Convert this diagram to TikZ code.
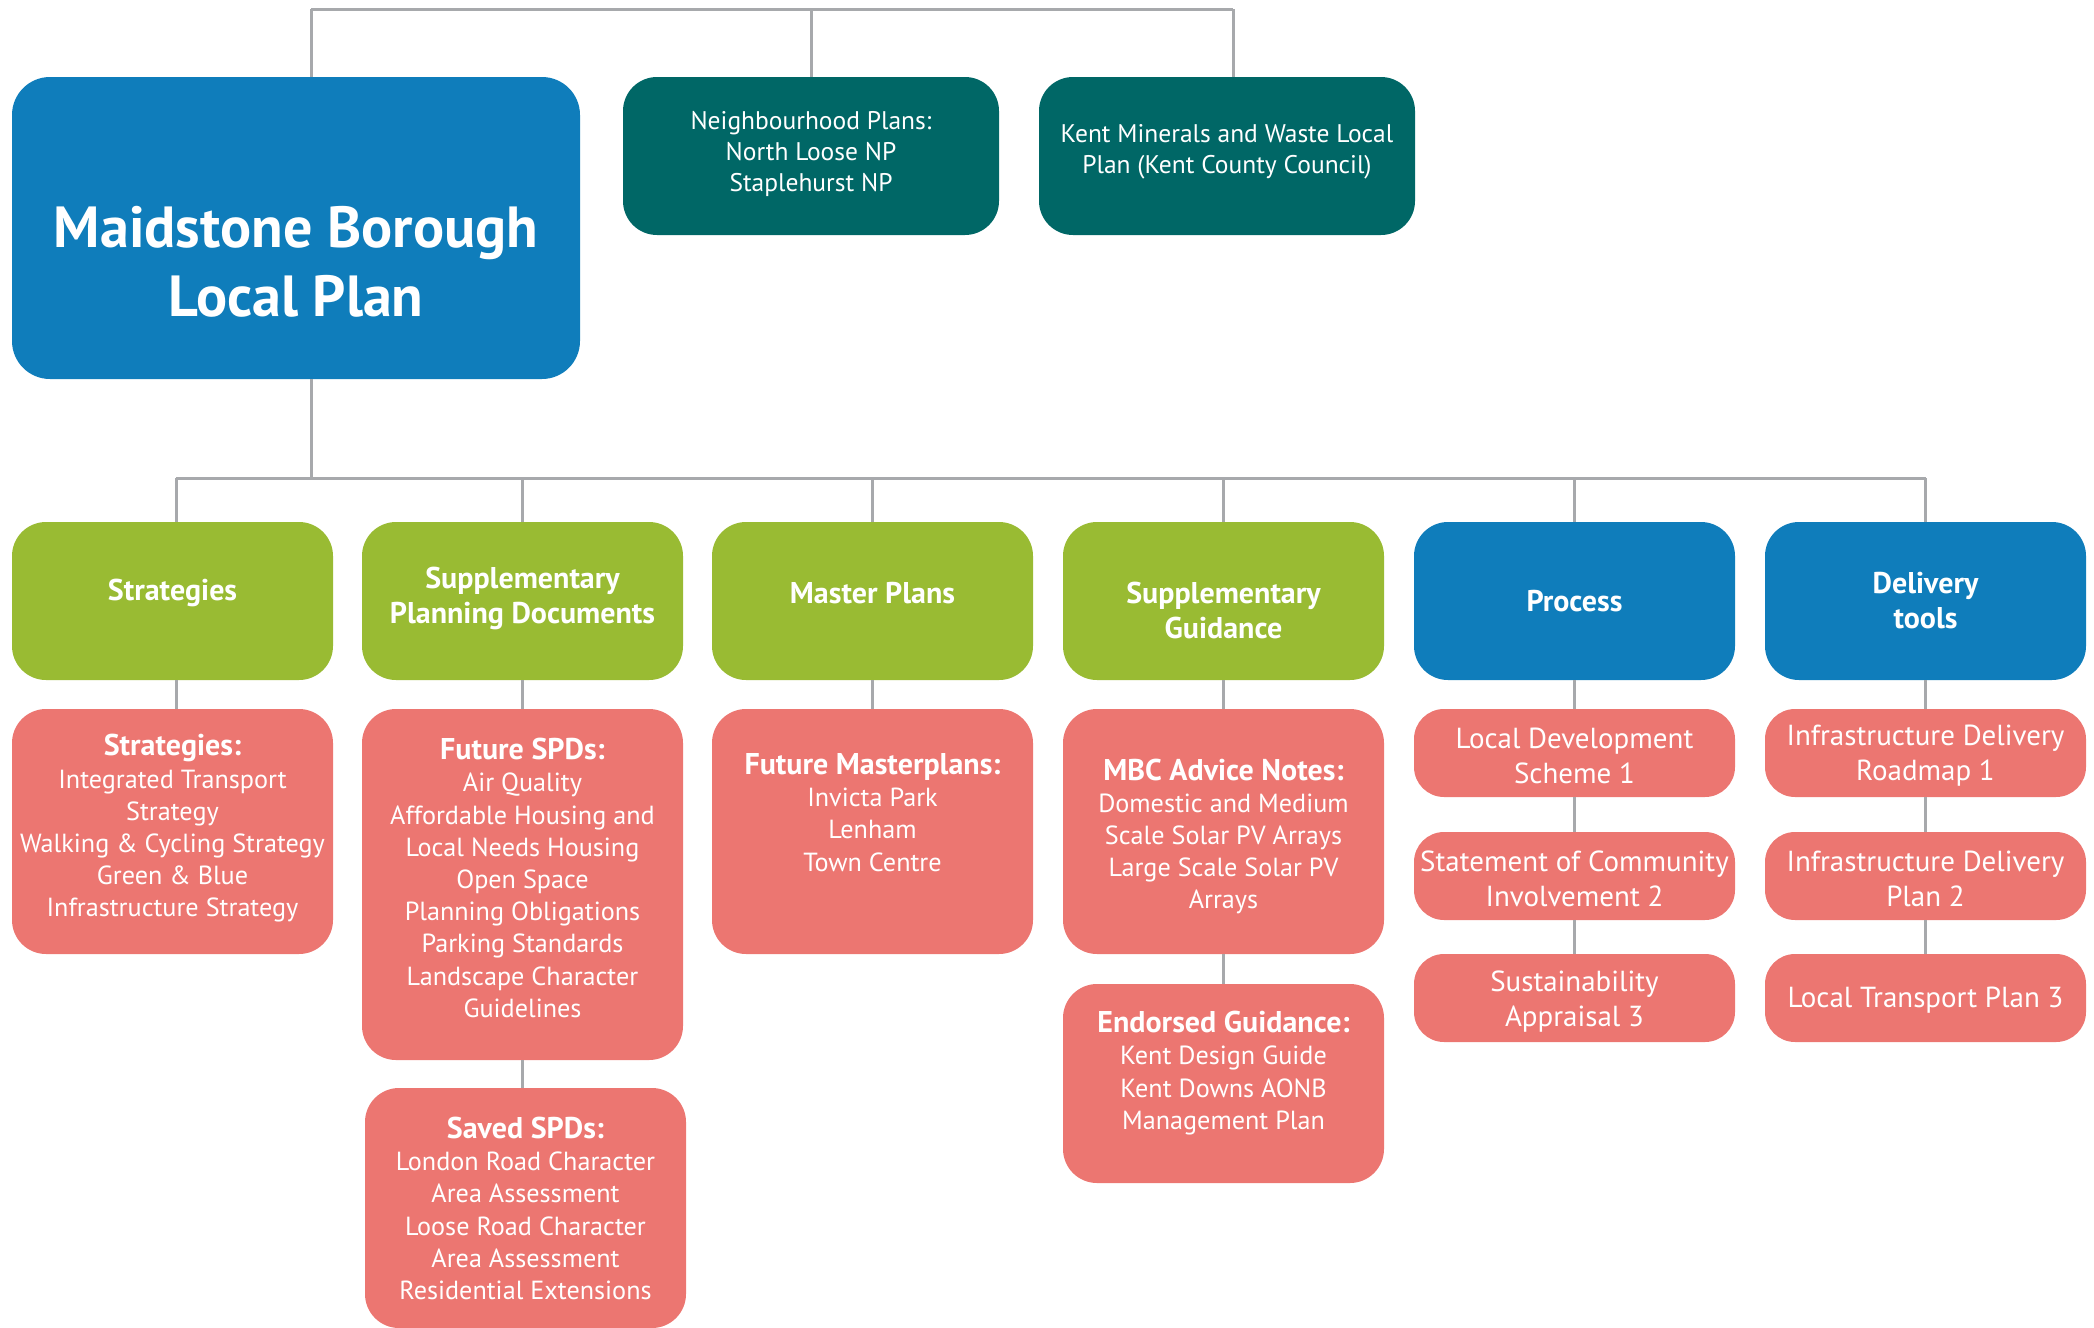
\documentclass[tikz,border=0pt]{standalone}
\usepackage{fontspec}
\setmainfont{PT Sans}
\definecolor{mbblue}{RGB}{15,125,187}
\definecolor{mbteal}{RGB}{0,103,102}
\definecolor{mbgreen}{RGB}{153,187,51}
\definecolor{mbred}{RGB}{236,118,113}
\definecolor{mbgray}{RGB}{167,169,172}
\tikzset{
  box/.style={rectangle, rounded corners=34pt, inner sep=0pt, minimum width=321pt, draw=none},
  greenbox/.style={box, fill=mbgreen, minimum height=158pt},
  bluebox/.style={box, fill=mbblue, minimum height=158pt},
  tealbox/.style={box, fill=mbteal, minimum width=376pt, minimum height=158pt},
  redbox/.style={box, fill=mbred},
  smallbox/.style={box, fill=mbred, rounded corners=30pt, minimum height=88pt},
  txt/.style={text=white, align=center, inner sep=0pt},
  head/.style={txt, font=\bfseries\fontsize{30}{35}\selectfont},
  body/.style={txt, font=\fontsize{26.2}{32.2}\selectfont},
  small/.style={txt, font=\fontsize{29}{35}\selectfont},
  link/.style={draw=mbgray, line width=3pt},
}
\newcommand{\rhead}[1]{{\bfseries\fontsize{30}{32}\selectfont #1}}
\begin{document}
\begin{tikzpicture}[x=1pt,y=-1pt]
\useasboundingbox (0,0) rectangle (2094,1328);
% top row
\node[box, fill=mbblue, minimum width=568pt, minimum height=302pt, rounded corners=38pt] (main) at (296,228) {};
\node[txt, font=\bfseries\fontsize{58}{69}\selectfont] (tmain) at (296,262) {Maidstone Borough\\Local Plan};
\node[tealbox] (np) at (811,156) {};
\node[txt, font=\fontsize{25.5}{31}\selectfont] (tnp) at (811,154) {Neighbourhood Plans:\\North Loose NP\\Staplehurst NP};
\node[tealbox] (kent) at (1227,156) {};
\node[txt, font=\fontsize{25.5}{31}\selectfont] (tkent) at (1227,152) {Kent Minerals and Waste Local\\Plan (Kent County Council)};
% second row
\node[greenbox] (g1) at (172.5,601) {};
\node[head] (tg1) at (172.5,593) {Strategies};
\node[greenbox] (g2) at (522.5,601) {};
\node[head] (tg2) at (522.5,598) {Supplementary\\Planning Documents};
\node[greenbox] (g3) at (872.5,601) {};
\node[head] (tg3) at (872.5,593) {Master Plans};
\node[greenbox] (g4) at (1223.5,601) {};
\node[head] (tg4) at (1223.5,610) {Supplementary\\Guidance};
\node[bluebox] (g5) at (1574.5,601) {};
\node[head] (tg5) at (1574.5,601) {Process};
\node[bluebox] (g6) at (1925.5,601) {};
\node[head] (tg6) at (1925.5,601) {Delivery\\tools};
% third row
\node[redbox, minimum height=245pt] (r1) at (172.5,831.5) {};
\node[body] (tr1) at (172.5,828.5) {\rhead{Strategies:}\\Integrated Transport\\Strategy\\Walking \& Cycling Strategy\\Green \& Blue\\Infrastructure Strategy};
\node[redbox, minimum height=351pt] (r2) at (522.5,884.5) {};
\node[body] (tr2) at (522.5,878) {\rhead{Future SPDs:}\\Air Quality\\Affordable Housing and\\Local Needs Housing\\Open Space\\Planning Obligations\\Parking Standards\\Landscape Character\\Guidelines};
\node[redbox, minimum height=240pt] (r2b) at (525.5,1208) {};
\node[body] (tr2b) at (525.5,1208.5) {\rhead{Saved SPDs:}\\London Road Character\\Area Assessment\\Loose Road Character\\Area Assessment\\Residential Extensions};
\node[redbox, minimum height=245pt] (r3) at (872.5,831.5) {};
\node[body] (tr3) at (872.5,812.5) {\rhead{Future Masterplans:}\\Invicta Park\\Lenham\\Town Centre};
\node[redbox, minimum height=245pt] (r4) at (1223.5,831.5) {};
\node[body] (tr4) at (1223.5,836.5) {\rhead{MBC Advice Notes:}\\Domestic and Medium\\Scale Solar PV Arrays\\Large Scale Solar PV\\Arrays};
\node[redbox, minimum height=199pt] (r4b) at (1223.5,1083.5) {};
\node[body] (tr4b) at (1223.5,1073) {\rhead{Endorsed Guidance:}\\Kent Design Guide\\Kent Downs AONB\\Management Plan};
\node[smallbox] (p1) at (1574.5,753) {};
\node[small] (tp1) at (1574.5,756) {Local Development\\Scheme 1};
\node[smallbox] (p2) at (1574.5,876) {};
\node[small] (tp2) at (1574.5,878.5) {Statement of Community\\Involvement 2};
\node[smallbox] (p3) at (1574.5,998) {};
\node[small] (tp3) at (1574.5,1001.5) {Sustainability\\Appraisal 3};
\node[smallbox] (d1) at (1925.5,753) {};
\node[small] (td1) at (1925.5,756) {Infrastructure Delivery\\Roadmap 1};
\node[smallbox] (d2) at (1925.5,876) {};
\node[small] (td2) at (1925.5,878.5) {Infrastructure Delivery\\Plan 2};
\node[smallbox] (d3) at (1925.5,998) {};
\node[small] (td3) at (1925.5,1000) {Local Transport Plan 3};
% connectors
\coordinate (tbL) at (311,9);
\coordinate (tbR) at (1233,9);
\coordinate (hb) at (0,478);
\coordinate (c1) at (176,0);
\draw[link] (tbL) -- (tbR);
\draw[link] (tbL) -- (main.north -| tbL);
\draw[link] (np.north) -- (np.north |- tbL);
\draw[link] (tbR) -- (kent.north -| tbR);
\draw[link] (main.south -| tbL) -- (hb -| tbL);
\draw[link] (hb -| c1) -- (g6.north |- hb);
\draw[link] (g1.north -| c1) -- (hb -| c1);
\foreach \g in {g2,g3,g4,g5,g6} {\draw[link] (\g.north) -- (\g.north |- hb);}
\draw[link] (g1.south -| c1) -- (r1.north -| c1);
\draw[link] (g2.south) -- (r2.north);
\draw[link] (r2.south) -- (r2.south |- r2b.north);
\draw[link] (g3.south) -- (r3.north);
\draw[link] (g4.south) -- (r4.north);
\draw[link] (r4.south) -- (r4b.north);
\draw[link] (g5.south) -- (p1.north);
\draw[link] (p1.south) -- (p2.north);
\draw[link] (p2.south) -- (p3.north);
\draw[link] (g6.south) -- (d1.north);
\draw[link] (d1.south) -- (d2.north);
\draw[link] (d2.south) -- (d3.north);
\end{tikzpicture}
\end{document}
